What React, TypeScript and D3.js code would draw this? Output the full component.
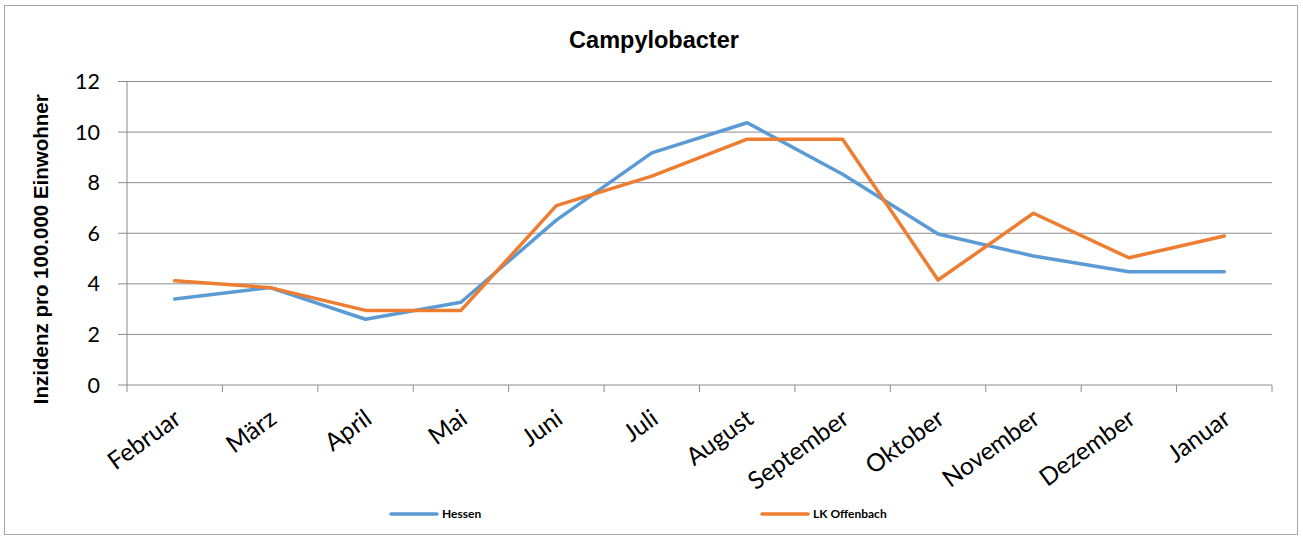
import * as d3 from "d3";

const months = [
  "Februar",
  "März",
  "April",
  "Mai",
  "Juni",
  "Juli",
  "August",
  "September",
  "Oktober",
  "November",
  "Dezember",
  "Januar",
];
const hessen = [3.4, 3.85, 2.6, 3.27, 6.52, 9.18, 10.37, 8.33, 5.97, 5.1, 4.48, 4.48];
const offenbach = [4.12, 3.85, 2.95, 2.95, 7.09, 8.26, 9.72, 9.72, 4.15, 6.79, 5.03, 5.89];
const yTicks = [0, 2, 4, 6, 8, 10, 12];

const W = 1303;
const H = 539;
const plot = { left: 127, right: 1272, top: 81.5, bottom: 385 };
const arial = "'Liberation Sans', Arial, sans-serif";
const calibri = "Lato, sans-serif";

const App = () => {
  const x = d3.scaleBand().domain(months).range([plot.left, plot.right]);
  const y = d3.scaleLinear().domain([0, 12]).range([plot.bottom, plot.top]);
  const cx = (m: string) => (x(m) as number) + x.bandwidth() / 2;
  const line = d3
    .line<number>()
    .x((_, i) => cx(months[i]))
    .y((d) => y(d));

  const series = [
    { name: "Hessen", values: hessen, color: "#5B9BD5", lx: 391 },
    { name: "LK Offenbach", values: offenbach, color: "#ED7D31", lx: 762 },
  ];

  return (
    <svg
      width={W}
      height={H}
      style={{ position: "absolute", left: 0, top: 0 }}
    >
      <rect x={0} y={0} width={W} height={H} fill="#fff" />
      <rect x={4.5} y={5.5} width={1293} height={529} fill="#fff" stroke="#a6a6a6" />
      <text
        x={654}
        y={48}
        textAnchor="middle"
        fontFamily={arial}
        fontWeight="bold"
        fontSize={23.5}
      >
        Campylobacter
      </text>

      {/* gridlines and y ticks */}
      {yTicks.map((t) => (
        <g key={t}>
          <line
            x1={118}
            x2={plot.right}
            y1={y(t)}
            y2={y(t)}
            stroke="#8c8c8c"
            strokeWidth={1}
          />
          <text
            x={100}
            y={y(t) + 7.5}
            textAnchor="end"
            fontFamily={calibri}
            fontSize={21.5}
          >
            {t}
          </text>
        </g>
      ))}
      <line x1={plot.left} x2={plot.left} y1={plot.top} y2={plot.bottom + 7} stroke="#8c8c8c" />
      {months.map((m, i) => (
        <line
          key={m}
          x1={plot.left + (i + 1) * x.step()}
          x2={plot.left + (i + 1) * x.step()}
          y1={plot.bottom}
          y2={plot.bottom + 7}
          stroke="#8c8c8c"
        />
      ))}

      {/* month labels */}
      {months.map((m) => (
        <text
          key={m}
          transform={`translate(${cx(m) + 8},${422}) rotate(-36)`}
          textAnchor="end"
          fontFamily={calibri}
          fontSize={24.5}
        >
          {m}
        </text>
      ))}

      <text
        transform={`translate(48,${(plot.top + plot.bottom) / 2 + 16}) rotate(-90)`}
        textAnchor="middle"
        fontFamily={arial}
        fontWeight="bold"
        fontSize={20.5}
      >
        Inzidenz pro 100.000 Einwohner
      </text>

      {series.map((s) => (
        <path
          key={s.name}
          d={line(s.values) || ""}
          fill="none"
          stroke={s.color}
          strokeWidth={3.5}
          strokeLinejoin="round"
          strokeLinecap="round"
        />
      ))}

      {series.map((s) => (
        <g key={s.name}>
          <line
            x1={s.lx}
            x2={s.lx + 46}
            y1={514}
            y2={514}
            stroke={s.color}
            strokeWidth={3.5}
            strokeLinecap="round"
          />
          <text
            x={s.lx + 51}
            y={518}
            fontFamily={calibri}
            fontWeight="bold"
            fontSize={12}
          >
            {s.name}
          </text>
        </g>
      ))}
    </svg>
  );
};

export default App;
